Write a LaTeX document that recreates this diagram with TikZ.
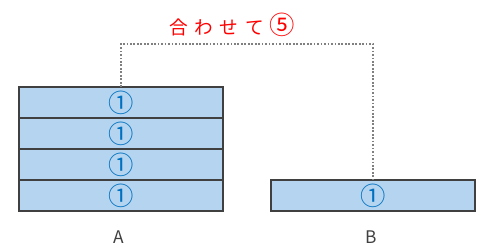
\documentclass[tikz,border=0pt]{standalone}
\usepackage{fontspec}
\newfontfamily\jpfont{Noto Sans CJK JP}
\usetikzlibrary{positioning}
\definecolor{cellblue}{HTML}{B4D4EF}
\definecolor{numblue}{HTML}{0070C0}
\definecolor{edgegray}{HTML}{404040}
\tikzset{
  cell/.style={draw=edgegray, line width=1.6pt, fill=cellblue, outer sep=0pt, inner sep=0pt,
    minimum width=153pt, minimum height=23.25pt, text=numblue, font=\jpfont\fontsize{19}{19}\selectfont},
  dotline/.style={gray, line width=1.3pt, dash pattern=on 1.3pt off 1.3pt},
  caption/.style={text=edgegray, font=\jpfont\fontsize{13}{13}\selectfont}
}
\begin{document}
\begin{tikzpicture}[x=0.75pt, y=-0.75pt]
    \useasboundingbox (0,0) rectangle (488,250);
    % Pila A
    \node[cell] (a1) at (121,102.5) {①};
    \foreach \i [remember=\i as \j (initially 1)] in {2,3,4}
        \node[cell, below=0pt of a\j] (a\i) {①};
    \node[caption] (labA) at (119,237) {A};

    % Caja B
    \node[cell] (b1) at (373,195.5) {①};
    \node[caption] (labB) at (371,237) {B};

    % Linea punteada
    \coordinate (joinpt) at (248,44);
    \draw[dotline] (a1.north) |- (joinpt) -| (b1.north);
    \node[text=red, font=\jpfont\fontsize{14}{14}\selectfont] (sumlab) at (232,25)
        {合\hspace{0.35em}わ\hspace{0.35em}せ\hspace{0.35em}て\hspace{0.3em}{\fontsize{19}{19}\selectfont ⑤}};
\end{tikzpicture}
\end{document}
